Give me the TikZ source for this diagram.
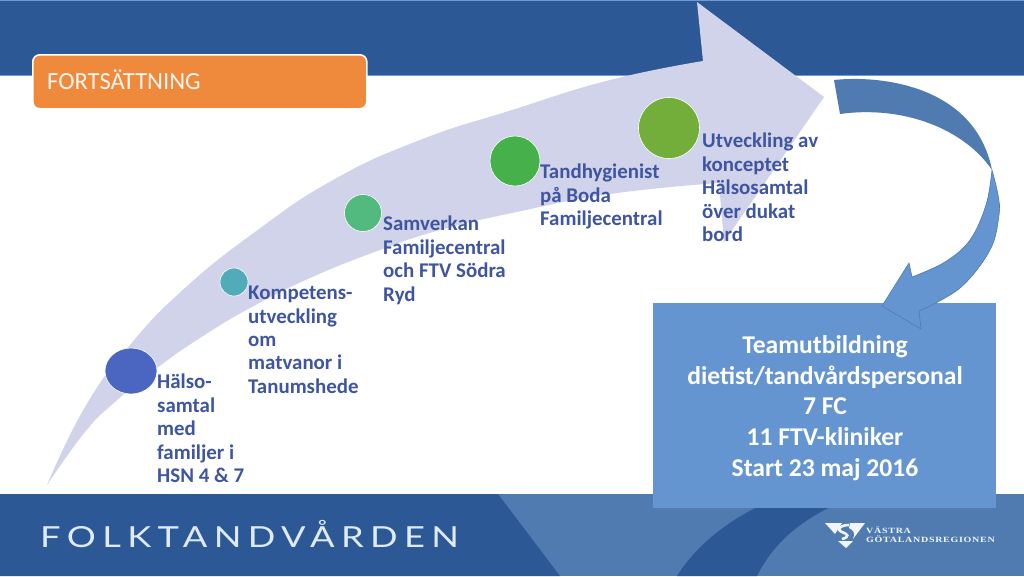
\documentclass[tikz,border=0pt]{standalone}
\usepackage{fontspec}
\usetikzlibrary{shapes.geometric}
\setmainfont{Carlito}
\newfontfamily\wordmark[LetterSpace=22,FakeStretch=1.25]{Lato}
\newfontfamily\logofont[LetterSpace=9,FakeStretch=1.25]{Liberation Serif}
\definecolor{bandDark}{HTML}{2D5896}
\definecolor{bandLight}{HTML}{4F7BB1}
\definecolor{bandEdge}{HTML}{6F9AD2}
\definecolor{arrowLav}{HTML}{D0D3EA}
\definecolor{boxBlue}{HTML}{6495D0}
\definecolor{labelBlue}{HTML}{3F559F}
\definecolor{orangeBox}{HTML}{EF893C}
\definecolor{dotA}{RGB}{74,102,192}
\definecolor{dotB}{RGB}{82,171,184}
\definecolor{dotC}{RGB}{82,185,127}
\definecolor{dotD}{RGB}{70,177,74}
\definecolor{dotE}{RGB}{116,174,58}
\definecolor{brandInk}{RGB}{222,235,245}
\tikzset{
  steplabel/.style={anchor=north west,inner sep=0pt,align=left,text=labelBlue,font=\fontsize{20.9}{23.4}\selectfont\bfseries},
  stepdot/.style={circle,inner sep=0pt,draw=white,line width=0.6pt},
}
\begin{document}
\begin{tikzpicture}[x=1pt,y=-1pt]
\useasboundingbox (0,0) rectangle (1024,576);
\fill[white] (0,0) rectangle (1024,576);
% header band
\fill[bandDark] (0,0) rectangle (1024,75);
\draw[bandEdge,line width=0.8pt] (0,0.5) -- (1024,0.5);
\draw[bandEdge,line width=0.8pt] (0,75.5) -- (1024,75.5);
% footer band
\fill[bandLight] (0,494) rectangle (1024,576);
\fill[bandDark] (0,494) -- (498,494) -- (560,576) -- (0,576) -- cycle;
\fill[bandDark] (677,576) .. controls (700,540) and (735,515) .. (785,494) -- (860,494) .. controls (805,515) and (775,540) .. (757,576) -- cycle;
% big arrow
\fill[arrowLav] plot[smooth,tension=.8] coordinates {(47,485) (85,407) (130,345) (185,288) (255,232) (333,180) (420,140) (512,110) (610,80) (703,61)}
  -- (697,2) -- (824,97) -- (724,242) -- (719,183)
  -- plot[smooth,tension=.8] coordinates {(719,183) (610,194) (512,213) (440,230) (380,250) (310,278) (250,308) (200,338) (157,368) (115,402) (85,432) (47,485)} -- cycle;
% result box
\node[fill=boxBlue,minimum width=343pt,minimum height=205pt,inner sep=0pt,anchor=north west] (result) at (653,303) {};
\node[anchor=center,inner sep=0pt,align=center,text=white,font=\fontsize{25.6}{30.8}\selectfont\bfseries] (resulttext) at (825,408) {Teamutbildning\\dietist/tandvårdspersonal\\7 FC\\11 FTV-kliniker\\Start 23 maj 2016};
% curved arrow
\fill[boxBlue] plot[smooth,tension=.6] coordinates {(992,170) (998,195) (999,215) (990,250) (960,288) (919,311)}
  -- (921,329) -- (882,306) -- (909,263) -- (912,277)
  -- plot[smooth,tension=.6] coordinates {(912,277) (945,262) (970,240) (986,205) (992,170)} -- cycle;
\draw[bandLight,line width=0.6pt] plot[smooth,tension=.6] coordinates {(992,170) (998,195) (999,215) (990,250) (960,288) (919,311)}
  -- (921,329) -- (882,306) -- (909,263) -- (912,277)
  -- plot[smooth,tension=.6] coordinates {(912,277) (945,262) (970,240) (986,205) (992,170)};
\fill[bandLight] (834,80) .. controls (880,75) and (975,85) .. (992,170)
  .. controls (965,130) and (905,105) .. (840,114) -- cycle;
% orange title
\node[rounded corners=7pt,draw=white,line width=1.6pt,fill=orangeBox,minimum width=334pt,minimum height=54pt,inner sep=0pt,anchor=north west] (title) at (32,54) {};
\node[anchor=west,inner sep=0pt,text=white!93!orangeBox,font=\fontsize{24.6}{26}\selectfont] (titletext) at (47,80) {FORTSÄTTNING};
% timeline dots
\node[stepdot,ellipse,fill=dotA,minimum width=52pt,minimum height=46pt] (d0) at (131,371) {};
\node[stepdot,fill=dotB,minimum size=28pt] (d1) at (234,282) {};
\node[stepdot,fill=dotC,minimum size=37pt] (d2) at (363,213) {};
\node[stepdot,fill=dotD,minimum size=50pt] (d3) at (515,161) {};
\node[stepdot,fill=dotE,minimum size=61pt] (d4) at (669,128) {};
% labels
\node[steplabel] (l0) at (157,374) {Hälso-\\samtal\\med\\familjer i\\HSN 4 \& 7};
\node[steplabel] (l1) at (248,286) {Kompetens-\\utveckling\\om\\matvanor i\\Tanumshede};
\node[steplabel] (l2) at (383,216) {Samverkan\\Familjecentral\\och FTV Södra\\Ryd};
\node[steplabel] (l3) at (540,164) {Tandhygienist\\på Boda\\Familjecentral};
\node[steplabel] (l4) at (702,133) {Utveckling av\\konceptet\\Hälsosamtal\\över dukat\\bord};
% wordmark
\node[anchor=west,inner sep=0pt,text=brandInk,font=\fontsize{29}{31}\wordmark] (brand) at (40,534) {FOLKTANDVÅRDEN};
% regional logo
\fill[white!92!bandLight] (825,523) -- (842,523) -- (835,534) -- cycle;
\fill[white!92!bandLight] (850,523) -- (865,523) -- (853,539) .. controls (856,533) and (853,530) .. (849,528) -- cycle;
\fill[white!92!bandLight] (838,541) -- (853,541) -- (846,548) -- cycle;
\draw[white!92!bandLight,line width=2.6pt] (849,525) .. controls (840,525) and (836,530) .. (842,532) .. controls (848,534) and (850,537) .. (842,539);
\node[anchor=west,inner sep=0pt,text=white!92!bandLight,font=\fontsize{8}{8.5}\logofont\bfseries,align=left] (logotext) at (866,534.5) {VÄSTRA\\GÖTALANDSREGIONEN};
\end{tikzpicture}
\end{document}
